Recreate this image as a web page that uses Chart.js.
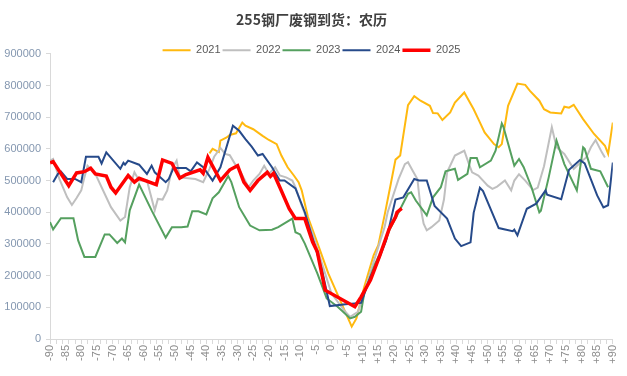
<!DOCTYPE html>
<html>
<head>
<meta charset="utf-8">
<script src="https://cdn.jsdelivr.net/npm/chart.js@4"></script>
<style>
  html, body { margin: 0; padding: 0; background: #fff; }
  #wrap { width: 627px; height: 376px; }
</style>
</head>
<body>
<div id="wrap"><canvas id="chart" width="627" height="376"></canvas></div>
<script>
// 农历天数 (x) 和到货量 (千吨 -> 乘 1000)
const seriesNames = ["2021", "2022", "2023", "2024", "2025"];

const x2021 = [-39, -38, -36, -35.5, -33.5, -32.5, -30.5, -28.5, -27.5, -25, -22, -20, -17.5, -16, -14, -12, -10.5, -9.5, -7.5, -4, -1, 6.5, 8, 10.5, 13.5, 15, 17, 19, 20.5, 22, 24.5, 26.5, 28.5, 31.5, 32.5, 34, 35.5, 38, 39.5, 42.5, 45.5, 47, 49, 52, 53.5, 54.5, 56.5, 59.5, 62, 63.5, 66.5, 68, 70, 73.5, 74.5, 76, 77.5, 80.5, 84, 87.5, 88.5, 90];
const y2021 = [586, 600, 590, 626, 636, 644, 649, 683, 673, 662, 641, 628, 615, 579, 542, 516, 495, 469, 385, 290, 207, 39, 65, 164, 264, 296, 390, 490, 566, 579, 738, 766, 752, 736, 713, 712, 691, 715, 746, 778, 725, 694, 652, 615, 605, 615, 736, 806, 802, 783, 752, 725, 715, 712, 733, 730, 739, 694, 647, 610, 584, 683];

const x2022 = [-90, -89, -87, -84.5, -83, -81.5, -80, -79, -78, -75.5, -73.5, -70.5, -67.5, -66, -64.5, -63, -61.5, -59, -56.5, -55.5, -54, -52.5, -51, -49.5, -48.5, -43.5, -41, -39, -37.5, -35.5, -34, -32.5, -31, -29, -26.5, -25, -23, -21.5, -20, -18, -16.5, -14.5, -12.5, -11.5, -9.5, -6, -3, 0, 4, 6, 8.5, 14, 17, 18, 21.5, 23.5, 24.5, 26, 27.5, 28.5, 29.5, 30.5, 32, 34.5, 36, 37, 39.5, 42.5, 44, 45, 47, 48.5, 50, 51.5, 53, 55.5, 57.5, 58.5, 60, 62, 64.5, 66, 68, 70.5, 72, 74.5, 77.5, 80, 81.5, 83, 84.5, 86.5, 87.5];
const y2022 = [563, 568, 505, 447, 423, 445, 469, 510, 547, 521, 479, 416, 374, 385, 479, 526, 500, 500, 406, 442, 440, 469, 537, 563, 510, 505, 495, 537, 575, 603, 584, 580, 555, 526, 479, 500, 521, 547, 521, 542, 516, 510, 500, 479, 421, 332, 238, 144, 91, 70, 86, 259, 353, 400, 505, 552, 558, 531, 505, 416, 364, 343, 353, 374, 440, 526, 579, 594, 552, 526, 516, 500, 484, 474, 481, 500, 469, 500, 520, 500, 470, 478, 545, 668, 605, 584, 537, 560, 573, 605, 628, 589, 573];

const x2023 = [-90, -89, -86.5, -82.5, -81, -79, -75.5, -72.5, -71, -68.5, -67, -66, -64.5, -61.5, -57.5, -53, -51, -48, -46, -44.5, -42.5, -40, -38, -36, -33, -32, -29.5, -26, -23, -19, -17, -12.5, -11.5, -10, -8.5, -4.5, -1.5, 2, 6, 7.5, 9.5, 10.5, 14, 17, 18.5, 21.5, 24.5, 25.5, 27, 30.5, 32.5, 35, 36.5, 39.5, 40.5, 43.5, 44.5, 46.5, 47.5, 51, 52.5, 54.5, 55, 58.5, 60, 61.5, 64, 66.5, 67, 69.5, 72, 74.5, 78.5, 80.5, 81, 83, 86, 88.5];
const y2023 = [369, 346, 381, 381, 311, 259, 259, 330, 330, 303, 317, 305, 406, 487, 406, 320, 353, 353, 355, 403, 403, 393, 444, 463, 514, 495, 416, 358, 343, 345, 353, 380, 337, 330, 301, 207, 128, 102, 65, 70, 86, 144, 238, 301, 343, 400, 458, 463, 437, 390, 447, 479, 529, 537, 502, 521, 571, 571, 542, 563, 594, 680, 670, 547, 568, 542, 479, 400, 405, 510, 626, 552, 469, 605, 600, 537, 529, 479];

const x2024 = [-89, -87.5, -86.5, -84.5, -82, -80, -78.5, -74.5, -73.5, -72, -67.5, -66.5, -66, -65, -61.5, -59, -57.5, -56.5, -53, -52, -50.5, -46.5, -45, -43, -41, -38, -35.5, -31.5, -29.5, -27.5, -25.5, -23.5, -22, -19, -16.5, -15, -11.5, -8.5, -5, -3, -0.5, 4.5, 9.5, 12.5, 15, 17.5, 20.5, 23, 26.5, 28, 30.5, 33, 37, 39.5, 41.5, 44.5, 45.5, 47.5, 48.5, 53.5, 58, 58.5, 59.5, 62.5, 65.5, 68.5, 69, 73.5, 76, 79.5, 81, 85, 87, 88.5, 90];
const y2024 = [495, 521, 528, 505, 505, 495, 575, 575, 554, 589, 537, 556, 550, 563, 550, 521, 547, 526, 495, 505, 540, 540, 529, 557, 542, 500, 542, 673, 657, 631, 607, 579, 584, 542, 500, 500, 475, 400, 285, 217, 104, 110, 114, 196, 248, 311, 440, 447, 505, 500, 500, 420, 380, 317, 293, 305, 398, 477, 467, 350, 340, 345, 327, 411, 427, 469, 455, 441, 534, 565, 554, 453, 415, 422, 557];

const x2025 = [-90, -89, -84, -81.5, -79, -77, -75.5, -72, -70.5, -69, -65, -63, -61.5, -56, -54, -51, -48.5, -46.5, -42, -41, -39.5, -35.5, -32.5, -30, -28, -26, -23.5, -20.5, -19.5, -18.5, -16.5, -13.5, -11.5, -8.5, -6, -4.5, -2, 7.5, 9.5, 12.5, 15.5, 18.5, 20.5, 21, 22.5];
const y2025 = [556, 560, 484, 524, 528, 539, 521, 514, 479, 461, 516, 495, 507, 487, 565, 554, 508, 519, 534, 523, 573, 500, 534, 547, 495, 469, 500, 526, 513, 523, 479, 411, 380, 380, 306, 275, 154, 102, 133, 186, 264, 348, 385, 400, 412];

const yTicks = [0, 100000, 200000, 300000, 400000, 500000, 600000, 700000, 800000, 900000];

const colors = ["#FFB90F", "#BFBFBF", "#55A05F", "#264A8A", "#FF0000"];
const widths = [2, 2, 2, 2, 3.5];

function pts(xs, ys) {
    return xs.map((x, i) => ({ x: x, y: ys[i] * 1000 }));
}

const allX = [x2021, x2022, x2023, x2024, x2025];
const allY = [y2021, y2022, y2023, y2024, y2025];

const datasets = seriesNames.map((name, i) => ({
    label: name,
    data: pts(allX[i], allY[i]),
    borderColor: colors[i],
    backgroundColor: colors[i],
    borderWidth: widths[i],
    pointRadius: 0,
    tension: 0,
    order: 4 - i,
}));

const baseFont = '"Liberation Sans", Arial, "Noto Sans CJK SC", sans-serif';

// legend sits almost on top of the plot in the original
const tightLegend = {
    id: "tightLegend",
    beforeInit(chart) {
        const fit = chart.legend.fit;
        chart.legend.fit = function () {
            fit.call(this);
            this.height -= 12;
        };
    },
};

new Chart(document.getElementById("chart").getContext("2d"), {
    type: "line",
    data: { datasets },
    plugins: [tightLegend],
    options: {
        responsive: false,
        animation: false,
        layout: { padding: { left: 0, right: 4, top: 0, bottom: 0 } },
        plugins: {
            title: {
                display: true,
                text: "255钢厂废钢到货：农历",
                color: "#404040",
                font: { family: '"Noto Sans CJK SC", sans-serif', size: 14, weight: "bold" },
                padding: { top: 11, bottom: 15 },
            },
            legend: {
                display: true,
                labels: {
                    usePointStyle: true,
                    pointStyle: "line",
                    pointStyleWidth: 28,
                    boxHeight: 8,
                    color: "#595959",
                    font: { family: baseFont, size: 11 },
                    padding: 2,
                    sort: (a, b) => a.datasetIndex - b.datasetIndex,
                },
            },
            tooltip: { enabled: false },
        },
        scales: {
            x: {
                type: "linear",
                min: -90,
                max: 90,
                afterFit: (s) => { s.height = 37; },
                border: { color: "#d9d9d9" },
                grid: {
                    drawOnChartArea: false,
                    tickLength: 5,
                    tickColor: (ctx) => (ctx.tick && Math.abs(ctx.tick.value) % 2 === 0 ? "#d9d9d9" : "rgba(0,0,0,0)"),
                },
                ticks: {
                    stepSize: 1,
                    autoSkip: false,
                    minRotation: 90,
                    maxRotation: 90,
                    padding: 1,
                    color: "#8c8c8c",
                    font: { family: baseFont, size: 11 },
                    callback: (v) => {
                        if (v % 5 !== 0) return "";
                        return v > 0 ? "+" + v : String(v);
                    },
                },
            },
            y: {
                min: 0,
                max: 900000,
                afterFit: (s) => { s.width = 50; },
                afterBuildTicks: (s) => { s.ticks = yTicks.map((v) => ({ value: v })); },
                border: { color: "#d9d9d9" },
                grid: { drawOnChartArea: false, tickLength: 4, color: "#d9d9d9" },
                ticks: {
                    color: "#8497B0",
                    padding: 5,
                    font: { family: baseFont, size: 11 },
                    callback: (v) => String(v),
                },
            },
        },
    },
});
</script>
</body>
</html>
